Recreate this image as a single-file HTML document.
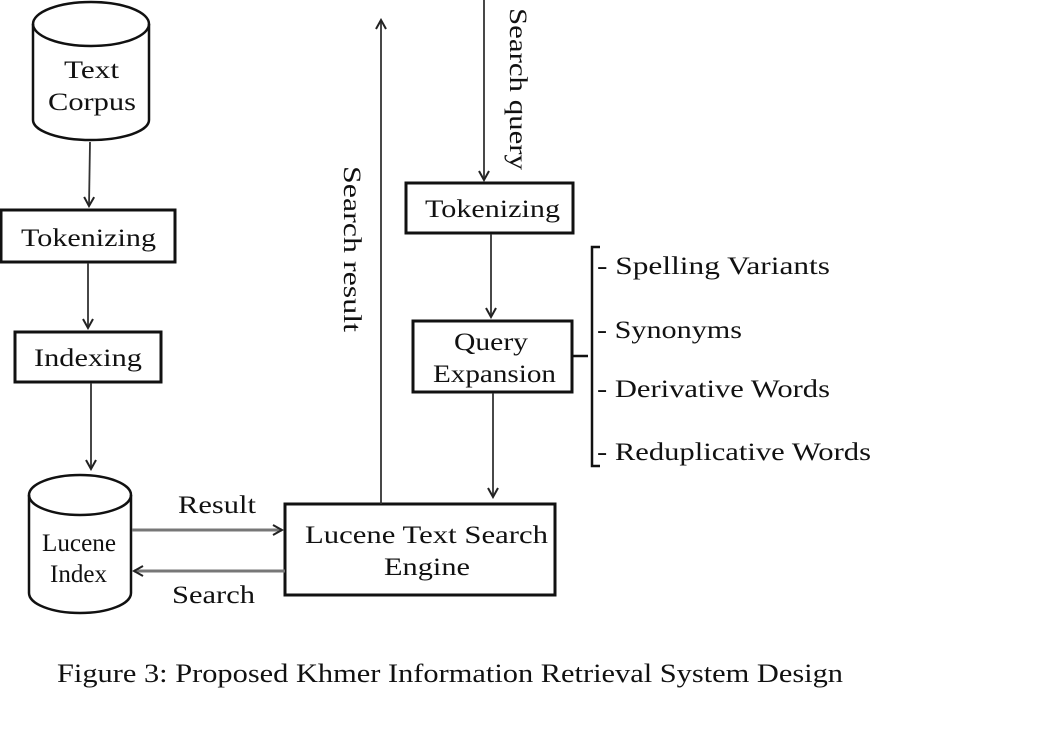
<!DOCTYPE html>
<html><head><style>
body{margin:0;background:#fff;}
svg text{font-family:"Liberation Serif",serif;fill:#111;}
</style></head><body>
<svg width="1060" height="729" xmlns="http://www.w3.org/2000/svg">
<defs><marker id="a" markerWidth="12" markerHeight="12" refX="10" refY="6" orient="auto" markerUnits="userSpaceOnUse"><path d="M1,1 L10,6 L1,11" fill="none" stroke="#222" stroke-width="2"/></marker></defs>
<g fill="none" stroke="#111" stroke-width="2.5">
<path d="M33,24 L33,120 A58,20 0 0 0 149,120 L149,24"/>
<ellipse cx="91" cy="24" rx="58" ry="22"/>
<path d="M29,495 L29,593 A51,20 0 0 0 131,593 L131,495"/>
<ellipse cx="80" cy="495" rx="51" ry="20"/>
<rect x="1" y="210" width="174" height="52" stroke-width="3"/>
<rect x="15" y="332" width="146" height="50" stroke-width="3"/>
<rect x="285" y="504" width="270" height="91" stroke-width="3"/>
<rect x="406" y="183" width="167" height="50" stroke-width="3"/>
<rect x="413" y="321" width="159" height="71" stroke-width="3"/>
</g>
<g fill="none" stroke="#333" stroke-width="1.8">
<line x1="90" y1="142" x2="89" y2="206" marker-end="url(#a)"/>
<line x1="88" y1="263" x2="88" y2="328" marker-end="url(#a)"/>
<line x1="91" y1="383" x2="91" y2="469" marker-end="url(#a)"/>
<line x1="132" y1="530" x2="282" y2="530" stroke="#777" stroke-width="3" marker-end="url(#a)"/>
<line x1="285" y1="571" x2="134" y2="571" stroke="#777" stroke-width="3" marker-end="url(#a)"/>
<line x1="381" y1="504" x2="381" y2="20" marker-end="url(#a)"/>
<line x1="484" y1="0" x2="484" y2="180" marker-end="url(#a)"/>
<line x1="491" y1="234" x2="491" y2="317" marker-end="url(#a)"/>
<line x1="493" y1="393" x2="493" y2="497" marker-end="url(#a)"/>
<path d="M573,356 L588,356 M600,247 L592,247 L592,466 L600,466" stroke="#111" stroke-width="2.5"/>
</g>
<g font-size="25" lengthAdjust="spacingAndGlyphs">
<text x="64" y="78" textLength="55" lengthAdjust="spacingAndGlyphs">Text</text>
<text x="48" y="110" textLength="88" lengthAdjust="spacingAndGlyphs">Corpus</text>
<text x="21" y="246" textLength="135" lengthAdjust="spacingAndGlyphs">Tokenizing</text>
<text x="34" y="366" textLength="108" lengthAdjust="spacingAndGlyphs">Indexing</text>
<text x="42" y="551" textLength="74" lengthAdjust="spacingAndGlyphs">Lucene</text>
<text x="50" y="582" textLength="57" lengthAdjust="spacingAndGlyphs">Index</text>
<text x="305" y="543" textLength="243" lengthAdjust="spacingAndGlyphs">Lucene Text Search</text>
<text x="384" y="575" textLength="86" lengthAdjust="spacingAndGlyphs">Engine</text>
<text x="425" y="217" textLength="135" lengthAdjust="spacingAndGlyphs">Tokenizing</text>
<text x="454" y="350" textLength="74" lengthAdjust="spacingAndGlyphs">Query</text>
<text x="433" y="382" textLength="123" lengthAdjust="spacingAndGlyphs">Expansion</text>
<text x="178" y="513" textLength="78" lengthAdjust="spacingAndGlyphs">Result</text>
<text x="172" y="603" textLength="83" lengthAdjust="spacingAndGlyphs">Search</text>
<text x="597" y="274" textLength="233" lengthAdjust="spacingAndGlyphs">- Spelling Variants</text>
<text x="597" y="338" textLength="145" lengthAdjust="spacingAndGlyphs">- Synonyms</text>
<text x="597" y="397" textLength="233" lengthAdjust="spacingAndGlyphs">- Derivative Words</text>
<text x="597" y="460" textLength="274" lengthAdjust="spacingAndGlyphs">- Reduplicative Words</text>
<text transform="translate(344,166) rotate(90)" textLength="166" lengthAdjust="spacingAndGlyphs">Search result</text>
<text transform="translate(510,8) rotate(90)" textLength="162" lengthAdjust="spacingAndGlyphs">Search query</text>
<text x="57" y="682" font-size="26" textLength="786" lengthAdjust="spacingAndGlyphs">Figure 3: Proposed Khmer Information Retrieval System Design</text>
</g>
</svg>
</body></html>
